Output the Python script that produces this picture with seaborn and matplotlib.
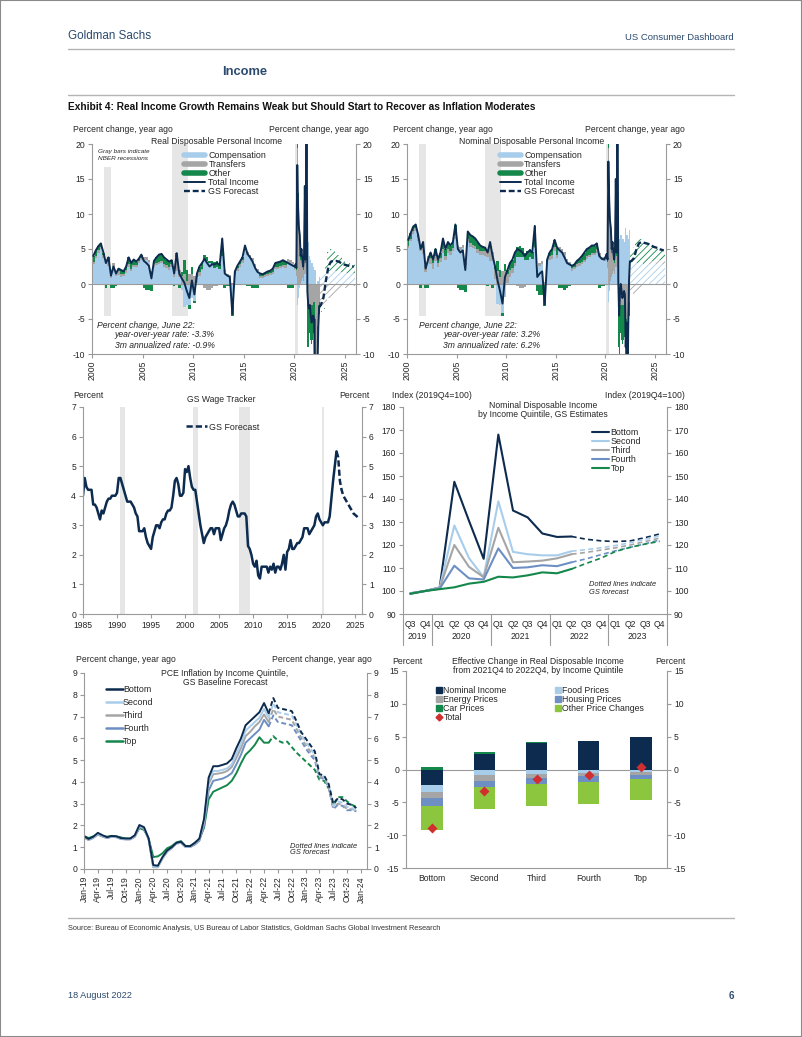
import numpy as np
import seaborn as sns
import matplotlib.pyplot as plt
from matplotlib.lines import Line2D
from matplotlib.patches import Patch, Rectangle
import matplotlib.transforms as mtransforms

# %% Style
sns.set_style("white")
plt.rcParams["font.family"] = ["Liberation Sans", "DejaVu Sans"]
plt.rcParams["hatch.linewidth"] = 0.6
plt.rcParams["axes.unicode_minus"] = False
NARROW = ["Liberation Sans Narrow", "Liberation Sans", "DejaVu Sans"]

W, H = 802, 1037
NAVY = "#0c2b4e"
LIGHT_BLUE = "#a8cdeb"
GREY = "#a5a5a5"
GREEN = "#14874a"
MID_BLUE = "#6d8fc4"
LIGHT_GREEN = "#8cc63e"
RED = "#d12f2f"
AXIS_GREY = "#9a9a9a"
REC_GREY = "#e6e6e6"
HEADER_BLUE = "#2c4a6e"

# %% Data: real disposable personal income, % y/y (quarterly 2000-2019, monthly 2020-Jun22, forecast quarterly)
rdpi_q_total = [4.0, 4.8, 5.4, 5.8, 4.5, 3.0, 3.8, 1.2, 2.5, 1.5, 2.2, 2.0, 1.8, 2.5, 3.8, 3.0,
                3.5, 3.2, 3.6, 4.2, 3.3, 3.0, 2.6, 0.8, 3.3, 3.8, 4.2, 4.3, 3.8, 3.5, 3.2, 3.4,
                1.5, 4.4, 1.5, 0.8, 0.2, -1.0, -2.0, 0.5, -1.5, 1.5, 2.5, 3.0, 3.6, 3.0, 2.5, 2.8,
                2.8, 3.0, 2.7, 6.5, 1.5, 1.2, 1.0, -4.3, 1.8, 2.6, 3.2, 3.8, 5.5, 4.3, 3.8, 3.2,
                2.3, 1.7, 1.5, 1.4, 1.6, 1.8, 1.9, 2.2, 3.0, 3.1, 3.2, 3.4, 3.2, 3.0, 2.8, 2.6]
rdpi_q_transfers = [0.3, 0.3, 0.3, 0.3, 0.5, 0.6, 0.7, 0.8, 0.8, 0.7, 0.6, 0.5, 0.4, 0.4, 0.4, 0.4,
                    0.3, 0.3, 0.3, 0.3, 0.3, 0.3, 0.3, 0.3, 0.3, 0.3, 0.3, 0.3, 0.4, 0.4, 0.4, 0.5,
                    0.8, 2.0, 1.0, 1.2, 1.5, 0.5, 1.5, 1.5, 1.2, 0.8, 0.5, 0.2, -0.5, -0.8, -0.8, -0.5,
                    -0.3, -0.3, -0.2, 0.0, 0.2, 0.3, 0.3, 0.2, 0.4, 0.5, 0.5, 0.5, 0.4, 0.4, 0.3, 0.3,
                    0.3, 0.3, 0.3, 0.3, 0.3, 0.3, 0.3, 0.3, 0.3, 0.3, 0.3, 0.3, 0.4, 0.4, 0.4, 0.4]
rdpi_q_other = [0.8, 0.8, 0.6, 0.5, 0.3, -0.5, 0.5, -0.5, -0.5, -0.3, 0.3, 0.5, 0.3, 0.5, 1.0, 0.8,
                0.8, 0.5, 0.3, 0.5, -0.5, -0.8, -0.8, -1.0, 0.5, 0.8, 1.0, 1.0, 1.0, 0.8, 0.8, 0.5,
                -0.3, 0.5, -0.5, 0.5, 2.0, 1.5, -0.5, 1.0, -0.3, 0.5, 0.8, 0.8, 0.8, 0.5, 0.3, 0.5,
                0.8, 0.8, 0.8, 2.5, -0.5, -0.3, -0.3, -1.5, 0.3, 0.3, 0.3, 0.3, 0.3, -0.3, -0.3, -0.5,
                -0.5, -0.5, 0.3, 0.3, 0.3, 0.3, 0.3, 0.5, 0.6, 0.6, 0.6, 0.7, 0.5, -0.5, -0.6, -0.6]
rdpi_m_total = [2.5, 2.8, 2.3, 17.0, 11.0, 8.0, 7.0, 4.0, 5.0, 3.5, 2.5, 3.8,
                14.0, 3.5, 30.0, -1.0, -3.0, -3.5, -3.0, -4.5, -5.5, -5.0, -4.5, -5.0,
                -15.0, -10.5, -25.0, -12.0, -6.0, -3.3]
rdpi_m_transfers = [0.3, 0.3, 0.8, 19.5, 12.5, 8.5, 7.0, 3.5, 4.0, 2.2, 1.5, 2.3,
                    12.0, 1.5, 27.0, -3.0, -3.5, -3.5, -3.0, -3.0, -3.0, -3.0, -2.5, -2.5,
                    -8.0, -5.0, -12.0, -6.0, -3.0, -2.5]
rdpi_m_other = [0.2, 0.3, 0.3, 0.5, 0.5, 0.5, 0.5, 0.5, 0.5, 0.5, 0.5, 0.5,
                0.5, 0.5, 0.5, -6.0, -5.5, -5.0, -4.0, -5.0, -5.5, -5.0, -4.5, -4.5,
                -9.0, -7.5, -13.0, -6.5, -3.5, -1.8]
rdpi_f_total = [-3.0, -2.0, 0.5, 2.5, 3.2, 3.3, 3.3, 3.2, 3.0, 2.8, 2.7, 2.6, 2.5, 2.5]
rdpi_f_transfers = [-3.0, -3.0, -2.5, -2.0, -1.8, -1.5, -1.2, -1.0, -0.8, -0.6, -0.5, -0.4, -0.3, -0.3]
rdpi_f_other = [-1.0, -0.5, 1.2, 2.7, 3.2, 3.0, 2.7, 2.4, 2.1, 1.7, 1.6, 1.4, 1.2, 1.2]

# %% Data: nominal disposable personal income, % y/y
ndpi_q_total = [6.3, 7.3, 8.2, 8.5, 7.0, 5.0, 6.0, 2.2, 3.5, 4.5, 3.5, 5.0, 3.5, 4.5, 6.5, 5.0,
                6.0, 5.5, 6.0, 8.5, 5.0, 4.5, 4.8, 2.0, 7.5, 7.0, 6.8, 6.5, 6.0, 5.5, 5.3, 5.2,
                4.5, 6.0, 4.0, 2.5, 0.5, -1.0, -2.8, 1.0, 2.0, 3.0, 3.5, 4.5, 5.0, 4.8, 4.5, 4.0,
                4.5, 4.8, 4.5, 8.3, 1.0, 1.5, 1.8, -2.9, 3.5, 4.5, 5.0, 6.3, 5.2, 4.8, 4.5, 3.8,
                3.0, 2.8, 2.6, 2.8, 3.3, 3.6, 4.0, 4.5, 5.0, 5.2, 5.5, 5.5, 5.8, 4.0, 3.6, 3.5]
ndpi_q_transfers = [0.4, 0.4, 0.4, 0.4, 0.6, 0.8, 0.9, 1.0, 1.0, 0.9, 0.8, 0.7, 0.6, 0.6, 0.6, 0.6,
                    0.5, 0.5, 0.5, 0.5, 0.5, 0.5, 0.5, 0.5, 0.5, 0.5, 0.5, 0.5, 0.6, 0.6, 0.6, 0.7,
                    1.0, 2.2, 1.2, 1.5, 1.8, 1.0, 1.8, 1.8, 1.4, 1.0, 0.7, 0.4, -0.3, -0.6, -0.6, -0.4,
                    -0.2, -0.2, -0.1, 0.1, 0.3, 0.4, 0.4, 0.3, 0.5, 0.6, 0.6, 0.6, 0.5, 0.5, 0.4, 0.4,
                    0.4, 0.4, 0.4, 0.4, 0.4, 0.4, 0.4, 0.4, 0.4, 0.4, 0.4, 0.4, 0.5, 0.5, 0.5, 0.5]
ndpi_q_other = [0.8, 0.8, 0.6, 0.5, 0.3, -0.5, 0.8, -0.5, -0.5, 0.8, 0.5, 1.0, 0.5, 0.8, 1.5, 1.0,
                1.0, 0.8, 0.8, 1.5, -0.5, -0.8, -0.8, -1.2, 1.0, 1.2, 1.2, 1.0, 1.0, 0.8, 0.6, 0.5,
                -0.3, 0.5, -0.5, 0.3, 1.5, 1.0, -0.5, 1.0, 0.5, 1.0, 1.2, 1.5, 1.5, 1.5, 1.2, 1.0,
                1.2, 1.2, 1.0, 3.0, -1.0, -1.5, -1.5, -3.0, 0.3, 0.5, 0.8, 1.0, 1.0, -0.5, -0.5, -0.8,
                -0.5, -0.3, 0.3, 0.3, 0.5, 0.6, 0.8, 1.0, 1.0, 1.0, 1.0, 1.0, 0.8, -0.5, -0.3, -0.3]
ndpi_m_total = [4.0, 4.3, 3.5, 17.5, 12.0, 9.0, 8.0, 5.0, 6.0, 4.5, 3.5, 5.0,
                15.0, 4.5, 32.0, 0.5, -4.5, -1.5, 0.0, -1.0, -2.0, -1.5, -1.0, -1.5,
                -9.0, -5.5, -18.0, -6.5, 0.5, 3.2]
ndpi_m_transfers = [0.4, 0.4, 0.9, 19.5, 12.5, 8.5, 7.0, 3.5, 4.0, 2.2, 1.5, 2.3,
                    12.0, 1.5, 27.0, -4.0, -4.0, -3.5, -3.0, -3.0, -3.0, -3.0, -2.5, -2.5,
                    -8.0, -5.0, -12.0, -6.0, -3.0, -2.5]
ndpi_m_other = [0.3, 0.3, 0.3, 0.5, 0.5, 0.5, 0.5, 0.5, 0.5, 0.5, 0.5, 0.5,
                0.5, 0.5, 0.5, -5.0, -7.0, -5.0, -4.0, -5.0, -5.5, -5.0, -4.5, -5.0,
                -9.0, -7.5, -13.0, -7.0, -4.0, -2.0]
ndpi_f_total = [3.3, 3.7, 5.0, 5.8, 6.0, 5.9, 5.8, 5.7, 5.5, 5.3, 5.2, 5.0, 4.9, 4.8]
ndpi_f_transfers = [-1.2, -1.6, -1.5, -1.0, -0.5, 0.0, 0.3, 0.4, 0.5, 0.5, 0.6, 0.6, 0.6, 0.6]
ndpi_f_other = [1.3, 2.2, 3.5, 3.8, 3.5, 3.0, 2.6, 2.4, 2.2, 2.0, 1.8, 1.6, 1.5, 1.4]

recessions = [(1990.5, 1991.2), (2001.2, 2001.9), (2007.9, 2009.5), (2020.1, 2020.4)]

# %% Data: GS wage tracker, quarterly from 1985Q1, forecast from 2022Q3
wage_tracker = [4.0, 4.6, 4.3, 4.2, 4.2, 4.2, 3.7, 3.7, 3.6, 3.4, 3.2, 3.5, 3.4, 3.6, 3.8, 3.9,
                3.9, 4.0, 4.0, 4.0, 4.1, 4.6, 4.6, 4.4, 4.2, 4.0, 3.8, 3.8, 3.8, 3.7, 3.6, 3.4,
                3.3, 2.8, 2.8, 2.8, 2.9, 2.6, 2.4, 2.3, 2.2, 2.6, 2.8, 3.0, 3.0, 2.9, 3.1, 3.2,
                3.2, 3.4, 3.5, 3.5, 3.6, 4.0, 4.5, 4.6, 4.4, 4.0, 4.0, 4.1, 4.9, 4.8, 5.0, 4.6,
                4.3, 4.2, 4.2, 3.8, 3.4, 3.0, 2.7, 2.4, 2.6, 2.7, 2.8, 2.9, 2.9, 2.7, 2.9, 2.9,
                2.9, 2.5, 2.7, 2.9, 3.0, 3.2, 3.5, 3.7, 3.8, 3.7, 3.5, 3.3, 3.3, 3.4, 3.4, 3.4,
                3.3, 2.3, 2.2, 2.0, 1.7, 1.6, 1.8, 1.3, 1.2, 1.6, 1.6, 1.6, 1.6, 1.4, 1.6, 1.5,
                1.7, 1.4, 1.6, 1.6, 1.5, 1.7, 2.0, 1.5, 2.1, 2.2, 2.5, 2.2, 2.2, 2.3, 2.4, 2.4,
                2.5, 2.6, 2.9, 2.9, 2.9, 2.7, 2.8, 2.9, 3.0, 3.3, 3.4, 3.2, 3.1, 3.0, 3.1, 3.1,
                3.1, 3.3, 3.9, 4.5, 5.0, 5.5]
wage_forecast = [5.3, 4.5, 4.2, 4.0, 3.9, 3.8, 3.7, 3.6, 3.5, 3.4, 3.35, 3.3, 3.25, 3.25]

# %% Data: nominal disposable income by quintile, index 2019Q4=100
quarter_labels = ["Q3", "Q4", "Q1", "Q2", "Q3", "Q4", "Q1", "Q2", "Q3",
                  "Q4", "Q1", "Q2", "Q3", "Q4", "Q1", "Q2", "Q3", "Q4"]
year_labels = ["2019", "2020", "2021", "2022", "2023"]
quintiles = ["Bottom", "Second", "Third", "Fourth", "Top"]
income_bottom = [99.0, 100.0, 101.5, 147.5, 130.5, 114.0, 168.0, 135.0, 132.0, 125.0, 123.5, 123.7]
income_second = [99.0, 100.0, 101.5, 128.5, 114.3, 106.0, 139.0, 117.0, 116.0, 115.5, 115.5, 117.3]
income_third = [98.9, 100.0, 101.3, 120.0, 110.5, 106.0, 127.5, 112.5, 112.8, 113.2, 114.2, 116.0]
income_fourth = [98.8, 100.0, 101.0, 111.0, 105.5, 105.0, 118.5, 110.0, 110.3, 111.2, 110.8, 112.5]
income_top = [98.8, 100.0, 100.8, 101.6, 103.2, 104.0, 106.2, 105.9, 106.8, 108.1, 107.7, 109.6]
income_bottom_fc = [123.7, 122.5, 121.8, 121.5, 121.8, 123.2, 124.8]
income_second_fc = [117.3, 118.0, 118.8, 119.8, 121.0, 122.5, 124.0]
income_third_fc = [116.0, 116.8, 117.8, 118.8, 120.0, 121.5, 123.0]
income_fourth_fc = [112.5, 114.0, 115.8, 117.5, 119.0, 120.5, 122.2]
income_top_fc = [109.6, 112.0, 114.3, 117.2, 119.0, 120.4, 121.6]

# %% Data: PCE inflation by quintile, monthly Jan-19 .. Dec-23 (forecast from index 40)
month_labels = ["Jan-19", "Apr-19", "Jul-19", "Oct-19", "Jan-20", "Apr-20", "Jul-20", "Oct-20",
                "Jan-21", "Apr-21", "Jul-21", "Oct-21", "Jan-22", "Apr-22", "Jul-22", "Oct-22",
                "Jan-23", "Apr-23", "Jul-23", "Oct-23", "Jan-24"]
pce_bottom = [1.50, 1.38, 1.48, 1.66, 1.55, 1.46, 1.52, 1.50, 1.42, 1.40, 1.40, 1.55,
              2.02, 1.92, 1.40, 0.18, 0.15, 0.55, 0.85, 1.00, 1.20, 1.25, 1.05, 1.05,
              1.20, 1.40, 2.30, 4.20, 4.72, 4.72, 4.78, 4.85, 5.05, 5.55, 6.00, 6.60,
              6.80, 7.00, 7.20, 7.62, 7.15, 7.85, 7.40, 7.35, 7.30, 7.25, 6.80, 6.30,
              6.00, 5.70, 5.40, 4.35, 4.30, 3.90, 3.00, 3.25, 3.20, 3.00, 2.95, 2.80]
pce_second = [1.48, 1.35, 1.45, 1.62, 1.52, 1.44, 1.50, 1.48, 1.40, 1.38, 1.38, 1.52,
              1.98, 1.90, 1.38, 0.10, 0.10, 0.50, 0.80, 0.98, 1.18, 1.22, 1.02, 1.02,
              1.18, 1.38, 2.20, 4.05, 4.50, 4.50, 4.55, 4.62, 4.80, 5.30, 5.75, 6.35,
              6.55, 6.75, 6.95, 7.35, 6.95, 7.60, 7.20, 7.15, 7.10, 7.05, 6.65, 6.20,
              5.85, 5.55, 5.25, 4.30, 4.25, 3.85, 2.90, 3.10, 3.05, 2.85, 2.80, 2.70]
pce_third = [1.46, 1.34, 1.44, 1.60, 1.50, 1.43, 1.49, 1.47, 1.39, 1.37, 1.37, 1.50,
             1.95, 1.88, 1.38, 0.08, 0.08, 0.48, 0.78, 0.96, 1.17, 1.21, 1.01, 1.01,
             1.15, 1.35, 2.10, 3.90, 4.35, 4.38, 4.42, 4.50, 4.68, 5.10, 5.55, 6.10,
             6.30, 6.55, 6.75, 7.10, 6.75, 7.35, 7.00, 6.95, 6.90, 6.85, 6.45, 6.05,
             5.70, 5.40, 5.10, 4.25, 4.20, 3.80, 2.85, 3.00, 2.95, 2.75, 2.75, 2.70]
pce_fourth = [1.45, 1.33, 1.43, 1.58, 1.49, 1.42, 1.48, 1.46, 1.38, 1.36, 1.36, 1.48,
              1.92, 1.85, 1.38, 0.12, 0.12, 0.50, 0.80, 0.97, 1.17, 1.21, 1.01, 1.01,
              1.12, 1.30, 2.00, 3.60, 4.05, 4.10, 4.15, 4.25, 4.40, 4.80, 5.25, 5.80,
              6.00, 6.20, 6.40, 6.85, 6.55, 7.05, 6.75, 6.70, 6.65, 6.60, 6.25, 5.90,
              5.55, 5.25, 5.00, 4.20, 4.15, 3.75, 2.75, 2.95, 2.90, 2.70, 2.70, 2.65]
pce_top = [1.52, 1.42, 1.50, 1.58, 1.52, 1.48, 1.52, 1.50, 1.45, 1.40, 1.40, 1.50,
           1.88, 1.80, 1.40, 0.55, 0.58, 0.72, 0.95, 1.05, 1.22, 1.28, 1.05, 1.05,
           1.20, 1.38, 1.90, 3.20, 3.55, 3.65, 3.75, 3.85, 4.05, 4.40, 4.85, 5.25,
           5.45, 5.70, 6.05, 5.80, 5.80, 6.10, 5.90, 5.80, 5.85, 5.60, 5.35, 5.15,
           4.95, 4.75, 4.55, 4.10, 4.05, 3.70, 2.90, 3.30, 3.30, 3.10, 2.95, 2.85]
PCE_FC_START = 40

# %% Data: effective change in real disposable income 2021Q4-2022Q4
nominal_income = [-2.4, 2.4, 4.0, 4.3, 4.9]
food_prices = [-1.0, -0.9, -0.7, -0.5, -0.4]
energy_prices = [-1.0, -0.8, -0.6, -0.5, -0.4]
housing_prices = [-1.2, -0.9, -0.9, -0.9, -0.6]
car_prices = [0.35, 0.3, 0.2, 0.1, 0.1]
other_price_changes = [-3.6, -3.4, -3.4, -3.3, -3.2]


# %% Helpers
fig = plt.figure(figsize=(W / 100, H / 100), dpi=100)


def axes_at(left, top, right, bottom):
    return fig.add_axes([left / W, 1 - bottom / H, (right - left) / W, (bottom - top) / H])


def fig_text(x, y, s, **kw):
    kw.setdefault("va", "center")
    fig.text(x / W, 1 - y / H, s, **kw)


def page_rule(y, x0=68, x1=734):
    fig.add_artist(Line2D([x0 / W, x1 / W], [1 - y / H] * 2, color="#b4b4b4", lw=1.0))


def style_axes(ax, ymin, ymax, step):
    ax.set_ylim(ymin, ymax)
    ax.set_yticks(np.arange(ymin, ymax + step / 2, step))
    for side in ["left", "right", "bottom"]:
        ax.spines[side].set_visible(True)
        ax.spines[side].set_color(AXIS_GREY)
        ax.spines[side].set_linewidth(0.8)
    ax.spines["top"].set_visible(False)
    ax.tick_params(axis="y", left=True, right=True, labelleft=True, labelright=True,
                   length=3, width=0.8, color=AXIS_GREY, labelsize=6.2, pad=2)
    ax.tick_params(axis="x", bottom=True, length=3, width=0.8, color=AXIS_GREY, labelsize=6.2, pad=2)
    ax.set_xlabel("")
    ax.set_ylabel("")
    ax.grid(False)


def stack_bars(ax, x, width, series, colors, hatch=None):
    pos = np.zeros(len(x))
    neg = np.zeros(len(x))
    for vals, color in zip(series, colors):
        vals = np.asarray(vals, dtype=float)
        base = np.where(vals >= 0, pos, neg)
        if hatch:
            look = dict(facecolor="none", edgecolor=color, hatch=hatch, linewidth=0)
        else:
            look = dict(color=color, linewidth=0)
        ax.bar(x, vals, width=width, bottom=base, align="edge", **look)
        pos += np.clip(vals, 0, None)
        neg += np.clip(vals, None, 0)


def draw_income(ax, q, m, f, first_rec_top):
    x_q = 2000 + np.arange(len(q[0])) * 0.25
    x_m = 2020 + np.arange(len(m[0])) / 12
    x_f = 2022.5 + np.arange(len(f[0])) * 0.25
    x_hist = np.concatenate([x_q, x_m])
    w_hist = np.concatenate([np.full(len(x_q), 0.25), np.full(len(x_m), 1 / 12)])
    total, transfers, other = [np.concatenate([np.asarray(a, float), np.asarray(b, float)]) for a, b in zip(q, m)]
    comp = total - transfers - other
    f_total, f_transfers, f_other = [np.asarray(a, float) for a in f]
    f_comp = f_total - f_transfers - f_other

    rec_extent = [(0.18, first_rec_top), (0.18, 1.0), (0.0, 1.0)]
    for (start, end), (lo, hi) in zip(recessions[1:], rec_extent):
        ax.axvspan(start, end, ymin=lo, ymax=hi, color=REC_GREY, lw=0, zorder=0)

    stack_bars(ax, x_hist, w_hist, [comp, transfers, other], [LIGHT_BLUE, GREY, GREEN])
    stack_bars(ax, x_f, 0.25, [f_comp, f_transfers, f_other], [LIGHT_BLUE, GREY, GREEN], hatch="/////")
    ax.axhline(0, color=AXIS_GREY, lw=0.8, zorder=1)
    sns.lineplot(x=x_hist + w_hist / 2, y=total, ax=ax, color=NAVY, lw=1.4, zorder=3)
    sns.lineplot(x=np.r_[x_hist[-1] + w_hist[-1] / 2, x_f + 0.125], y=np.r_[total[-1], f_total],
                 ax=ax, color=NAVY, lw=1.7, linestyle=(0, (2.5, 1.2)), zorder=3)

    style_axes(ax, -10, 20, 5)
    ax.set_xlim(2000, 2026.1)
    ax.set_xticks(range(2000, 2026, 5))
    ax.set_xticklabels([str(y) for y in range(2000, 2026, 5)], rotation=90)
    handles = [Line2D([], [], color=LIGHT_BLUE, lw=4), Line2D([], [], color=GREY, lw=4),
               Line2D([], [], color=GREEN, lw=4), Line2D([], [], color=NAVY, lw=1.4),
               Line2D([], [], color=NAVY, lw=1.7, linestyle=(0, (2.5, 1.2)))]
    labels = ["Compensation", "Transfers", "Other", "Total Income", "GS Forecast"]
    return handles, labels


# %% Page furniture
fig.add_artist(Rectangle((0, 0), 1, 1, transform=fig.transFigure, fill=False, edgecolor="#8a8a8a", lw=1.5))
fig_text(68, 36, "Goldman Sachs", color=HEADER_BLUE, fontsize=8.4, family=NARROW)
fig_text(734, 38, "US Consumer Dashboard", color=HEADER_BLUE, fontsize=6.8, family=NARROW, ha="right")
page_rule(49)
fig_text(222, 72, "Income", color=HEADER_BLUE, fontsize=9.3, family=NARROW, weight="bold")
page_rule(95)
fig_text(68, 107, "Exhibit 4: Real Income Growth Remains Weak but Should Start to Recover as Inflation Moderates",
         fontsize=7.25, family=NARROW, weight="bold", color="#111111")
page_rule(918)
fig_text(68, 929, "Source: Bureau of Economic Analysis, US Bureau of Labor Statistics, "
         "Goldman Sachs Global Investment Research", fontsize=5.3, family=NARROW, color="#333333")
fig_text(68, 996, "18 August 2022", color=HEADER_BLUE, fontsize=6.6, family=NARROW)
fig_text(734, 996, "6", color=HEADER_BLUE, fontsize=7.0, family=NARROW, ha="right", weight="bold")

# %% Chart 1: real disposable personal income
ax1 = axes_at(92, 144, 356, 354)
h, l = draw_income(ax1, (rdpi_q_total, rdpi_q_transfers, rdpi_q_other),
                   (rdpi_m_total, rdpi_m_transfers, rdpi_m_other),
                   (rdpi_f_total, rdpi_f_transfers, rdpi_f_other), first_rec_top=0.89)
ax1.legend(h, l, loc="upper left", bbox_to_anchor=(0.35, 0.965), frameon=False, fontsize=6.4,
           handlelength=2.3, handletextpad=0.4, labelspacing=0.0, borderpad=0, borderaxespad=0)
fig_text(73, 129, "Percent change, year ago", fontsize=6.2)
fig_text(369, 129, "Percent change, year ago", fontsize=6.2, ha="right")
fig_text(217, 141, "Real Disposable Personal Income", fontsize=6.2, ha="center")
fig_text(98, 152, "Gray bars indicate", fontsize=4.6, style="italic")
fig_text(98, 158, "NBER recessions", fontsize=4.6, style="italic")
fig_text(97, 325, "Percent change, June 22:", fontsize=6.2, style="italic")
fig_text(114, 335, "year-over-year rate: -3.3%", fontsize=6.2, style="italic")
fig_text(115, 345, "3m annualized rate: -0.9%", fontsize=6.2, style="italic")

# %% Chart 2: nominal disposable personal income
ax2 = axes_at(407, 144, 666, 354)
h, l = draw_income(ax2, (ndpi_q_total, ndpi_q_transfers, ndpi_q_other),
                   (ndpi_m_total, ndpi_m_transfers, ndpi_m_other),
                   (ndpi_f_total, ndpi_f_transfers, ndpi_f_other), first_rec_top=1.0)
ax2.legend(h, l, loc="upper left", bbox_to_anchor=(0.36, 0.965), frameon=False, fontsize=6.4,
           handlelength=2.3, handletextpad=0.4, labelspacing=0.0, borderpad=0, borderaxespad=0)
fig_text(393, 129, "Percent change, year ago", fontsize=6.2)
fig_text(685, 129, "Percent change, year ago", fontsize=6.2, ha="right")
fig_text(532, 141, "Nominal Disposable Personal Income", fontsize=6.2, ha="center")
fig_text(419, 325, "Percent change, June 22:", fontsize=6.2, style="italic")
fig_text(443, 335, "year-over-year rate: 3.2%", fontsize=6.2, style="italic")
fig_text(443, 345, "3m annualized rate: 6.2%", fontsize=6.2, style="italic")

# %% Chart 3: GS wage tracker
ax3 = axes_at(83, 407, 362, 614)
for start, end in recessions:
    ax3.axvspan(start, end, color=REC_GREY, lw=0, zorder=0)
x_wage = 1985 + np.arange(len(wage_tracker)) * 0.25
x_wage_fc = x_wage[-1] + 0.25 * (1 + np.arange(len(wage_forecast)))
sns.lineplot(x=x_wage, y=wage_tracker, ax=ax3, color=NAVY, lw=1.8)
sns.lineplot(x=np.r_[x_wage[-1], x_wage_fc], y=np.r_[wage_tracker[-1], wage_forecast], ax=ax3,
             color=NAVY, lw=1.8, linestyle=(0, (2.5, 1.2)))
style_axes(ax3, 0, 7, 1)
ax3.set_xlim(1985, 2026.0)
ax3.set_xticks(range(1985, 2026, 5))
ax3.legend([Line2D([], [], color=NAVY, lw=1.8, linestyle=(0, (2.5, 1.2)))], ["GS Forecast"],
           loc="upper left", bbox_to_anchor=(0.37, 0.925), frameon=False, fontsize=6.4,
           handlelength=2.3, handletextpad=0.3, borderpad=0, borderaxespad=0)
fig_text(73, 395, "Percent", fontsize=6.2)
fig_text(370, 395, "Percent", fontsize=6.2, ha="right")
fig_text(221, 399, "GS Wage Tracker", fontsize=6.2, ha="center")

# %% Chart 4: nominal disposable income by quintile
ax4 = axes_at(403, 407, 667, 614)
quint_colors = [NAVY, LIGHT_BLUE, GREY, MID_BLUE, GREEN]
hist_series = [income_bottom, income_second, income_third, income_fourth, income_top]
fc_series = [income_bottom_fc, income_second_fc, income_third_fc, income_fourth_fc, income_top_fc]
for hist, fc, color in zip(hist_series, fc_series, quint_colors):
    sns.lineplot(x=np.arange(len(hist)), y=hist, ax=ax4, color=color, lw=1.5)
    sns.lineplot(x=np.arange(len(hist) - 1, len(hist) - 1 + len(fc)), y=fc, ax=ax4, color=color,
                 lw=1.2, linestyle=(0, (3, 2)))
style_axes(ax4, 90, 180, 10)
ax4.set_xlim(-0.5, len(quarter_labels) - 0.5)
ax4.set_xticks(range(len(quarter_labels)))
ax4.set_xticklabels(quarter_labels)
ax4.set_xticks(np.arange(-0.5, len(quarter_labels)), minor=True)
ax4.tick_params(axis="x", which="major", length=0, pad=4)
ax4.tick_params(axis="x", which="minor", length=4, width=0.8, color=AXIS_GREY)
trans4 = mtransforms.blended_transform_factory(ax4.transData, ax4.transAxes)
year_edges = [-0.5, 1.5, 5.5, 9.5, 13.5, 17.5]
for edge in year_edges:
    ax4.plot([edge, edge], [0, -0.15], transform=trans4, color=AXIS_GREY, lw=0.8, clip_on=False)
for lo, hi, label in zip(year_edges[:-1], year_edges[1:], year_labels):
    ax4.text((lo + hi) / 2, -0.111, label, transform=trans4, ha="center", va="center", fontsize=6.2)
ax4.legend([Line2D([], [], color=c, lw=1.5) for c in quint_colors], quintiles, loc="upper left",
           bbox_to_anchor=(0.715, 0.9), frameon=False, fontsize=6.4, handlelength=1.9,
           handletextpad=0.2, labelspacing=0.0, borderpad=0, borderaxespad=0)
fig_text(392, 395, "Index (2019Q4=100)", fontsize=6.2)
fig_text(685, 395, "Index (2019Q4=100)", fontsize=6.2, ha="right")
fig_text(543, 410, "Nominal Disposable Income\nby Income Quintile, GS Estimates", fontsize=6.2,
         ha="center", linespacing=1.1)
fig_text(589, 584, "Dotted lines indicate", fontsize=5.4, style="italic")
fig_text(589, 592, "GS forecast", fontsize=5.4, style="italic")

# %% Chart 5: PCE inflation by quintile
ax5 = axes_at(84, 673, 367, 869)
pce_series = [pce_bottom, pce_second, pce_third, pce_fourth, pce_top]
for vals, color in zip(pce_series[::-1], quint_colors[::-1]):
    vals = np.asarray(vals)
    months = np.arange(len(vals))
    sns.lineplot(x=months[:PCE_FC_START + 1], y=vals[:PCE_FC_START + 1], ax=ax5, color=color, lw=1.4)
    sns.lineplot(x=months[PCE_FC_START:], y=vals[PCE_FC_START:], ax=ax5, color=color, lw=1.4,
                 linestyle=(0, (2.5, 1.5)))
style_axes(ax5, 0, 9, 1)
ax5.set_xlim(0, 61.3)
ax5.set_xticks(np.arange(0, 61, 3))
ax5.set_xticklabels(month_labels, rotation=90)
ax5.legend([Line2D([], [], color=c, lw=1.8) for c in quint_colors], quintiles, loc="upper left",
           bbox_to_anchor=(0.078, 0.94), frameon=False, fontsize=6.4, handlelength=1.9,
           handletextpad=0.0, labelspacing=0.45, borderpad=0, borderaxespad=0)
fig_text(76, 660, "Percent change, year ago", fontsize=6.2)
fig_text(372, 660, "Percent change, year ago", fontsize=6.2, ha="right")
fig_text(225, 678, "PCE Inflation by Income Quintile,\nGS Baseline Forecast", fontsize=6.2,
         ha="center", linespacing=1.1)
fig_text(290, 846, "Dotted lines indicate", fontsize=5.4, style="italic")
fig_text(290, 853, "GS forecast", fontsize=5.4, style="italic")

# %% Chart 6: effective change in real disposable income
ax6 = axes_at(406, 671, 667, 868)
positions = np.arange(len(quintiles))
components = [nominal_income, food_prices, energy_prices, housing_prices, car_prices, other_price_changes]
comp_colors = [NAVY, LIGHT_BLUE, GREY, MID_BLUE, GREEN, LIGHT_GREEN]
comp_labels = ["Nominal Income", "Food Prices", "Energy Prices", "Housing Prices", "Car Prices",
               "Other Price Changes"]
stack_bars(ax6, positions - 0.205, 0.41, components, comp_colors)
totals = np.sum(np.array(components), axis=0)
ax6.axhline(0, color=AXIS_GREY, lw=0.8, zorder=0.5)
sns.scatterplot(x=positions, y=totals, ax=ax6, marker="D", s=26, color=RED, linewidth=0, zorder=4)
style_axes(ax6, -15, 15, 5)
ax6.set_xlim(-0.5, 4.5)
ax6.set_xticks(positions)
ax6.set_xticklabels(quintiles)
ax6.set_xticks(np.arange(-0.5, 5), minor=True)
ax6.tick_params(axis="x", which="major", length=0, pad=4)
ax6.tick_params(axis="x", which="minor", length=4, width=0.8, color=AXIS_GREY)
leg_handles = [Patch(color=c) for c in comp_colors]
total_handle = Line2D([], [], color=RED, marker="D", markersize=3.5, lw=0)
handles6 = [leg_handles[0], leg_handles[2], leg_handles[4], total_handle,
            leg_handles[1], leg_handles[3], leg_handles[5]]
labels6 = [comp_labels[0], comp_labels[2], comp_labels[4], "Total",
           comp_labels[1], comp_labels[3], comp_labels[5]]
ax6.legend(handles6, labels6, ncol=2, loc="upper left", bbox_to_anchor=(0.115, 0.925), frameon=False,
           fontsize=6.3, handlelength=0.7, handleheight=0.7, handletextpad=0.15, labelspacing=0.0,
           columnspacing=5.5, borderpad=0, borderaxespad=0)
fig_text(392, 661, "Percent", fontsize=6.2)
fig_text(685, 661, "Percent", fontsize=6.2, ha="right")
fig_text(538, 666, "Effective Change in Real Disposable Income\nfrom 2021Q4 to 2022Q4, by Income Quintile",
         fontsize=6.2, ha="center", linespacing=1.1)

fig.savefig("out.png", dpi=100)
